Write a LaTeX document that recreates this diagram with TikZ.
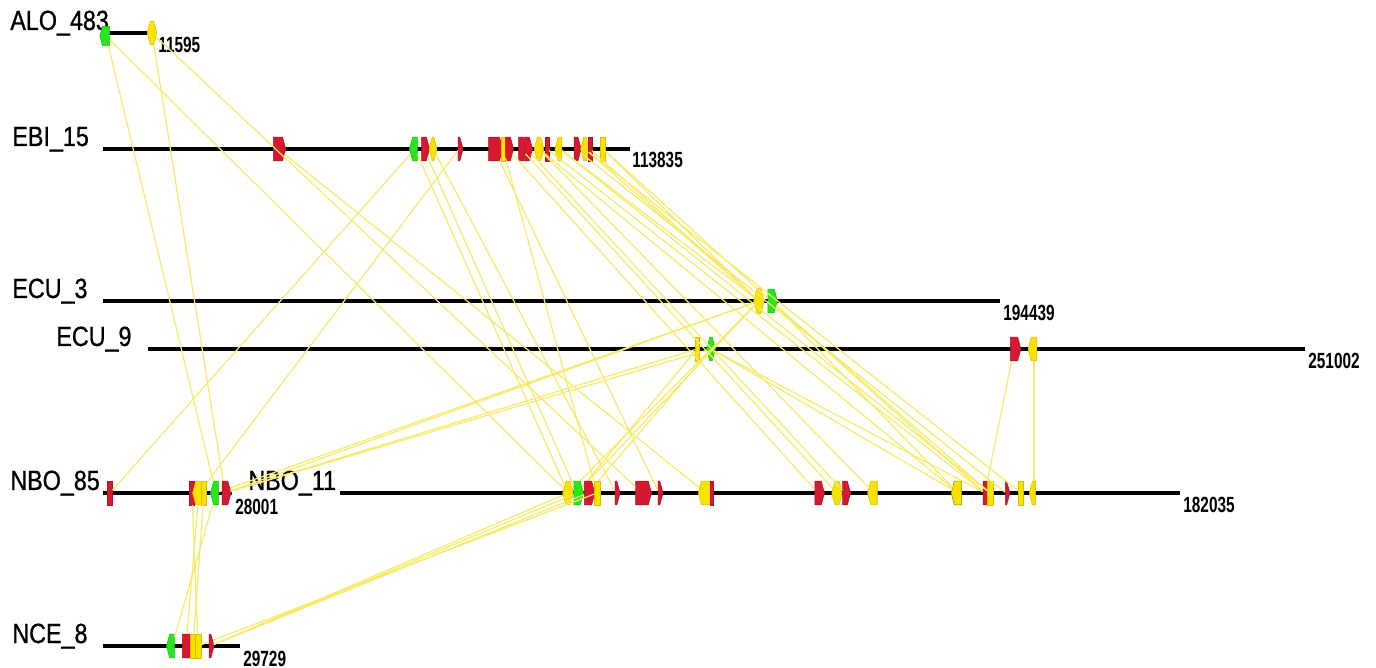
\documentclass[tikz,border=0pt]{standalone}
\usepackage{fontspec}
\newfontfamily\lblfont[FakeStretch=0.84,FakeBold=0.8]{Liberation Sans}
\newfontfamily\numfont[FakeStretch=0.7]{Liberation Sans}
\usetikzlibrary{shapes.symbols,positioning}
\definecolor{genered}{RGB}{214,24,48}
\definecolor{genegreen}{RGB}{40,230,30}
\definecolor{geneyellow}{RGB}{250,226,0}
\definecolor{linkyellow}{RGB}{245,234,105}
\tikzset{
    %backbone of a contig
    track/.style={draw=black, line width=2pt},
    gene/.style={
      signal,
      inner sep=0pt,
      minimum height=13.5pt,
      signal pointer angle=150,
      line width=0.3pt},
    rgene/.style={gene, fill=genered, draw=genered!80!black},
    ggene/.style={gene, fill=genegreen, draw=genegreen!80!black},
    ygene/.style={gene, fill=geneyellow, draw=geneyellow!85!black},
    fwd/.style={signal to=east},
    rev/.style={signal to=west},
    bi/.style={signal to=east and west},
    flat/.style={rectangle},
    gw/.style={minimum width=#1},
    link/.style={draw=linkyellow, line width=0.7pt},
    lbl/.style={
      anchor=base west,
      inner sep=0pt,
      font=\lblfont\fontsize{15.8}{18}\selectfont},
    num/.style={
      anchor=base west,
      inner sep=0pt,
      font=\numfont\bfseries\fontsize{12.5}{14}\selectfont},
}
\begin{document}
\begin{tikzpicture}[x=0.02cm, y=-0.02cm]
    \useasboundingbox (0,0) rectangle (1376,668);

    % contigs
    \coordinate (alo_s) at (107,33);   \coordinate (alo_e) at (156,33);
    \coordinate (ebi_s) at (103,149);  \coordinate (ebi_e) at (630,149);
    \coordinate (ecu3_s) at (103,301); \coordinate (ecu3_e) at (1000,301);
    \coordinate (ecu9_s) at (148,349); \coordinate (ecu9_e) at (1305,349);
    \coordinate (nbo85_s) at (103,493); \coordinate (nbo85_e) at (232,493);
    \coordinate (nbo11_s) at (340,493); \coordinate (nbo11_e) at (1180,493);
    \coordinate (nce_s) at (103,646);  \coordinate (nce_e) at (240,646);
    \draw [track] (alo_s) -- (alo_e);
    \draw [track] (ebi_s) -- (ebi_e);
    \draw [track] (ecu3_s) -- (ecu3_e);
    \draw [track] (ecu9_s) -- (ecu9_e);
    \draw [track] (nbo85_s) -- (nbo85_e);
    \draw [track] (nbo11_s) -- (nbo11_e);
    \draw [track] (nce_s) -- (nce_e);

    \node (alo) [lbl] at (10,30) {ALO\_483};
    \node (ebi) [lbl] at (12,146) {EBI\_15};
    \node (ecu3) [lbl] at (12,298) {ECU\_3};
    \node (ecu9) [lbl] at (56,346) {ECU\_9};
    \node (nbo85) [lbl] at (10,490) {NBO\_85};
    \node (nbo11) [lbl] at (248,490) {NBO\_11};
    \node (nce) [lbl] at (12,643) {NCE\_8};

    \node (alo_n) [num] at (158,53) {11595};
    \node (ebi_n) [num] at (632,168) {113835};
    \node (ecu3_n) [num] at (1003,321) {194439};
    \node (ecu9_n) [num] at (1308,369) {251002};
    \node (nbo85_n) [num] at (235,515) {28001};
    \node (nbo11_n) [num] at (1183,513) {182035};
    \node (nce_n) [num] at (243,666) {29729};

    % ALO_483
    \node (a1) [ggene, rev, gw=5.5pt, minimum height=11pt] at (106,36) {};
    \node (a2) [ygene, bi, gw=5.5pt] at (152,33) {};

    % EBI_15
    \node (e1) [rgene, fwd, gw=7pt] at (278,149) {};
    \node (e2) [ggene, rev, gw=4.5pt] at (415,149) {};
    \node (e3) [rgene, fwd, gw=4.5pt] at (424,149) {};
    \node (e4) [ygene, bi, gw=4.5pt] at (433,149) {};
    \node (e5) [rgene, fwd, gw=2.8pt] at (459,149) {};
    \node (e6) [rgene, fwd, gw=8pt] at (494,149) {};
    \node (e7) [ygene, flat, gw=2.4pt] at (503,149) {};
    \node (e8) [rgene, fwd, gw=4.5pt] at (508,149) {};
    \node (e9) [rgene, fwd, gw=4.5pt] at (521,149) {};
    \node (e10) [rgene, fwd, gw=4.5pt] at (527,149) {};
    \node (e11) [ygene, bi, gw=5.5pt] at (539,149) {};
    \node (e12) [rgene, flat, gw=2pt] at (547,149) {};
    \node (e13) [ygene, rev, gw=4pt] at (560,149) {};
    \node (e14) [rgene, fwd, gw=4pt] at (576,149) {};
    \node (e15) [ygene, bi, gw=5pt] at (585,149) {};
    \node (e16) [rgene, flat, gw=2pt] at (590,149) {};
    \node (e17) [ygene, flat, gw=2.6pt] at (603,149) {};

    % ECU_3
    \node (c1) [ygene, bi, gw=6pt, minimum height=14.5pt] at (759,301) {}
          edge [link] (e13)
          edge [link] (e15)
          edge [link] (e16)
          edge [link] (e17);
    \node (c2) [ggene, fwd, gw=5.5pt] at (771,301) {}
          edge [link] (e17);

    % ECU_9
    \node (d1) [ygene, flat, gw=2.2pt] at (697,349) {};
    \node (d2) [ggene, bi, gw=5pt] at (711,349) {};
    \node (d3) [rgene, fwd, gw=6pt] at (1014,349) {};
    \node (d4) [ygene, rev, gw=5pt] at (1034,349) {};

    % NBO_85
    \node (p1) [rgene, flat, gw=2.6pt] at (110,493) {}
          edge [link] (e2);
    \node (p2) [rgene, flat, gw=2.6pt] at (192,493) {};
    \node (p3) [ygene, rev, gw=5.5pt] at (199,493) {}
          edge [link] (e5);
    \node (p4) [ygene, flat, gw=2.6pt] at (204,493) {};
    \node (p5) [ggene, rev, gw=4.5pt] at (216,493) {}
          edge [link] (a1)
          edge [link] (c1);
    \node (p6) [rgene, fwd, gw=5pt] at (225,493) {}
          edge [link] (a2)
          edge [link] (c1)
          edge [link] (d1)
          edge [link] (d2);

    % NBO_11
    \node (q1) [ygene, bi, gw=6pt] at (568,493) {}
          edge [link] (a1)
          edge [link] (e2)
          edge [link] (c1);
    \node (q2) [ggene, fwd, gw=5.5pt] at (577,493) {}
          edge [link] (e3)
          edge [link] (c1)
          edge [link] (d1);
    \node (q3) [rgene, fwd, gw=6pt] at (588,493) {}
          edge [link] (d2);
    \node (q4) [ygene, flat, gw=3.2pt] at (597,493) {}
          edge [link] (e7);
    \node (q5) [rgene, fwd, gw=2.8pt] at (616,493) {}
          edge [link] (e4);
    \node (q6) [rgene, fwd, gw=9pt] at (642,493) {}
          edge [link] (a2);
    \node (q7) [rgene, fwd, gw=2.8pt] at (659,493) {}
          edge [link] (e6);
    \node (q8) [ygene, rev, gw=7pt] at (706,493) {}
          edge [link] (e1);
    \node (q8b) [rgene, flat, gw=1.8pt] at (712,493) {};
    \node (q9) [rgene, fwd, gw=5.5pt] at (818,493) {}
          edge [link] (e8);
    \node (q10) [ygene, bi, gw=6pt] at (837,493) {}
          edge [link] (e9);
    \node (q11) [rgene, fwd, gw=4.5pt] at (845,493) {}
          edge [link] (e10);
    \node (q12) [ygene, rev, gw=5.5pt] at (874,493) {}
          edge [link] (e11);
    \node (q13) [ygene, rev, gw=6pt, draw=geneyellow!60!black] at (958,493) {}
          edge [link] (e11)
          edge [link] (c2)
          edge [link] (d2);
    \node (q14) [rgene, fwd, gw=4pt] at (985,493) {}
          edge [link] (e12)
          edge [link] (c2)
          edge [link] (d2)
          edge [link] (d3);
    \node (q15) [ygene, flat, gw=3.2pt] at (990,493) {}
          edge [link] (e13)
          edge [link] (c2);
    \node (q16) [rgene, fwd, gw=2.6pt] at (1006,493) {}
          edge [link] (e14);
    \node (q17) [ygene, flat, gw=2.6pt] at (1021,493) {}
          edge [link] (e15);
    \node (q18) [ygene, rev, gw=3.6pt] at (1034,493) {}
          edge [link] (d4);

    % NCE_8
    \node (n1) [ggene, rev, gw=4.5pt] at (172,646) {}
          edge [link] (p5);
    \node (n2) [rgene, fwd, gw=6pt] at (186,646) {}
          edge [link] (p3);
    \node (n3) [ygene, flat, gw=2.6pt] at (193,646) {}
          edge [link] (p4);
    \node (n4) [ygene, flat, gw=3.2pt] at (198,646) {}
          edge [link] (p2)
          edge [link] (q4);
    \node (n5) [rgene, fwd, gw=2.8pt] at (210,646) {}
          edge [link] (q1)
          edge [link] (q2)
          edge [link] (q3);
\end{tikzpicture}
\end{document}
